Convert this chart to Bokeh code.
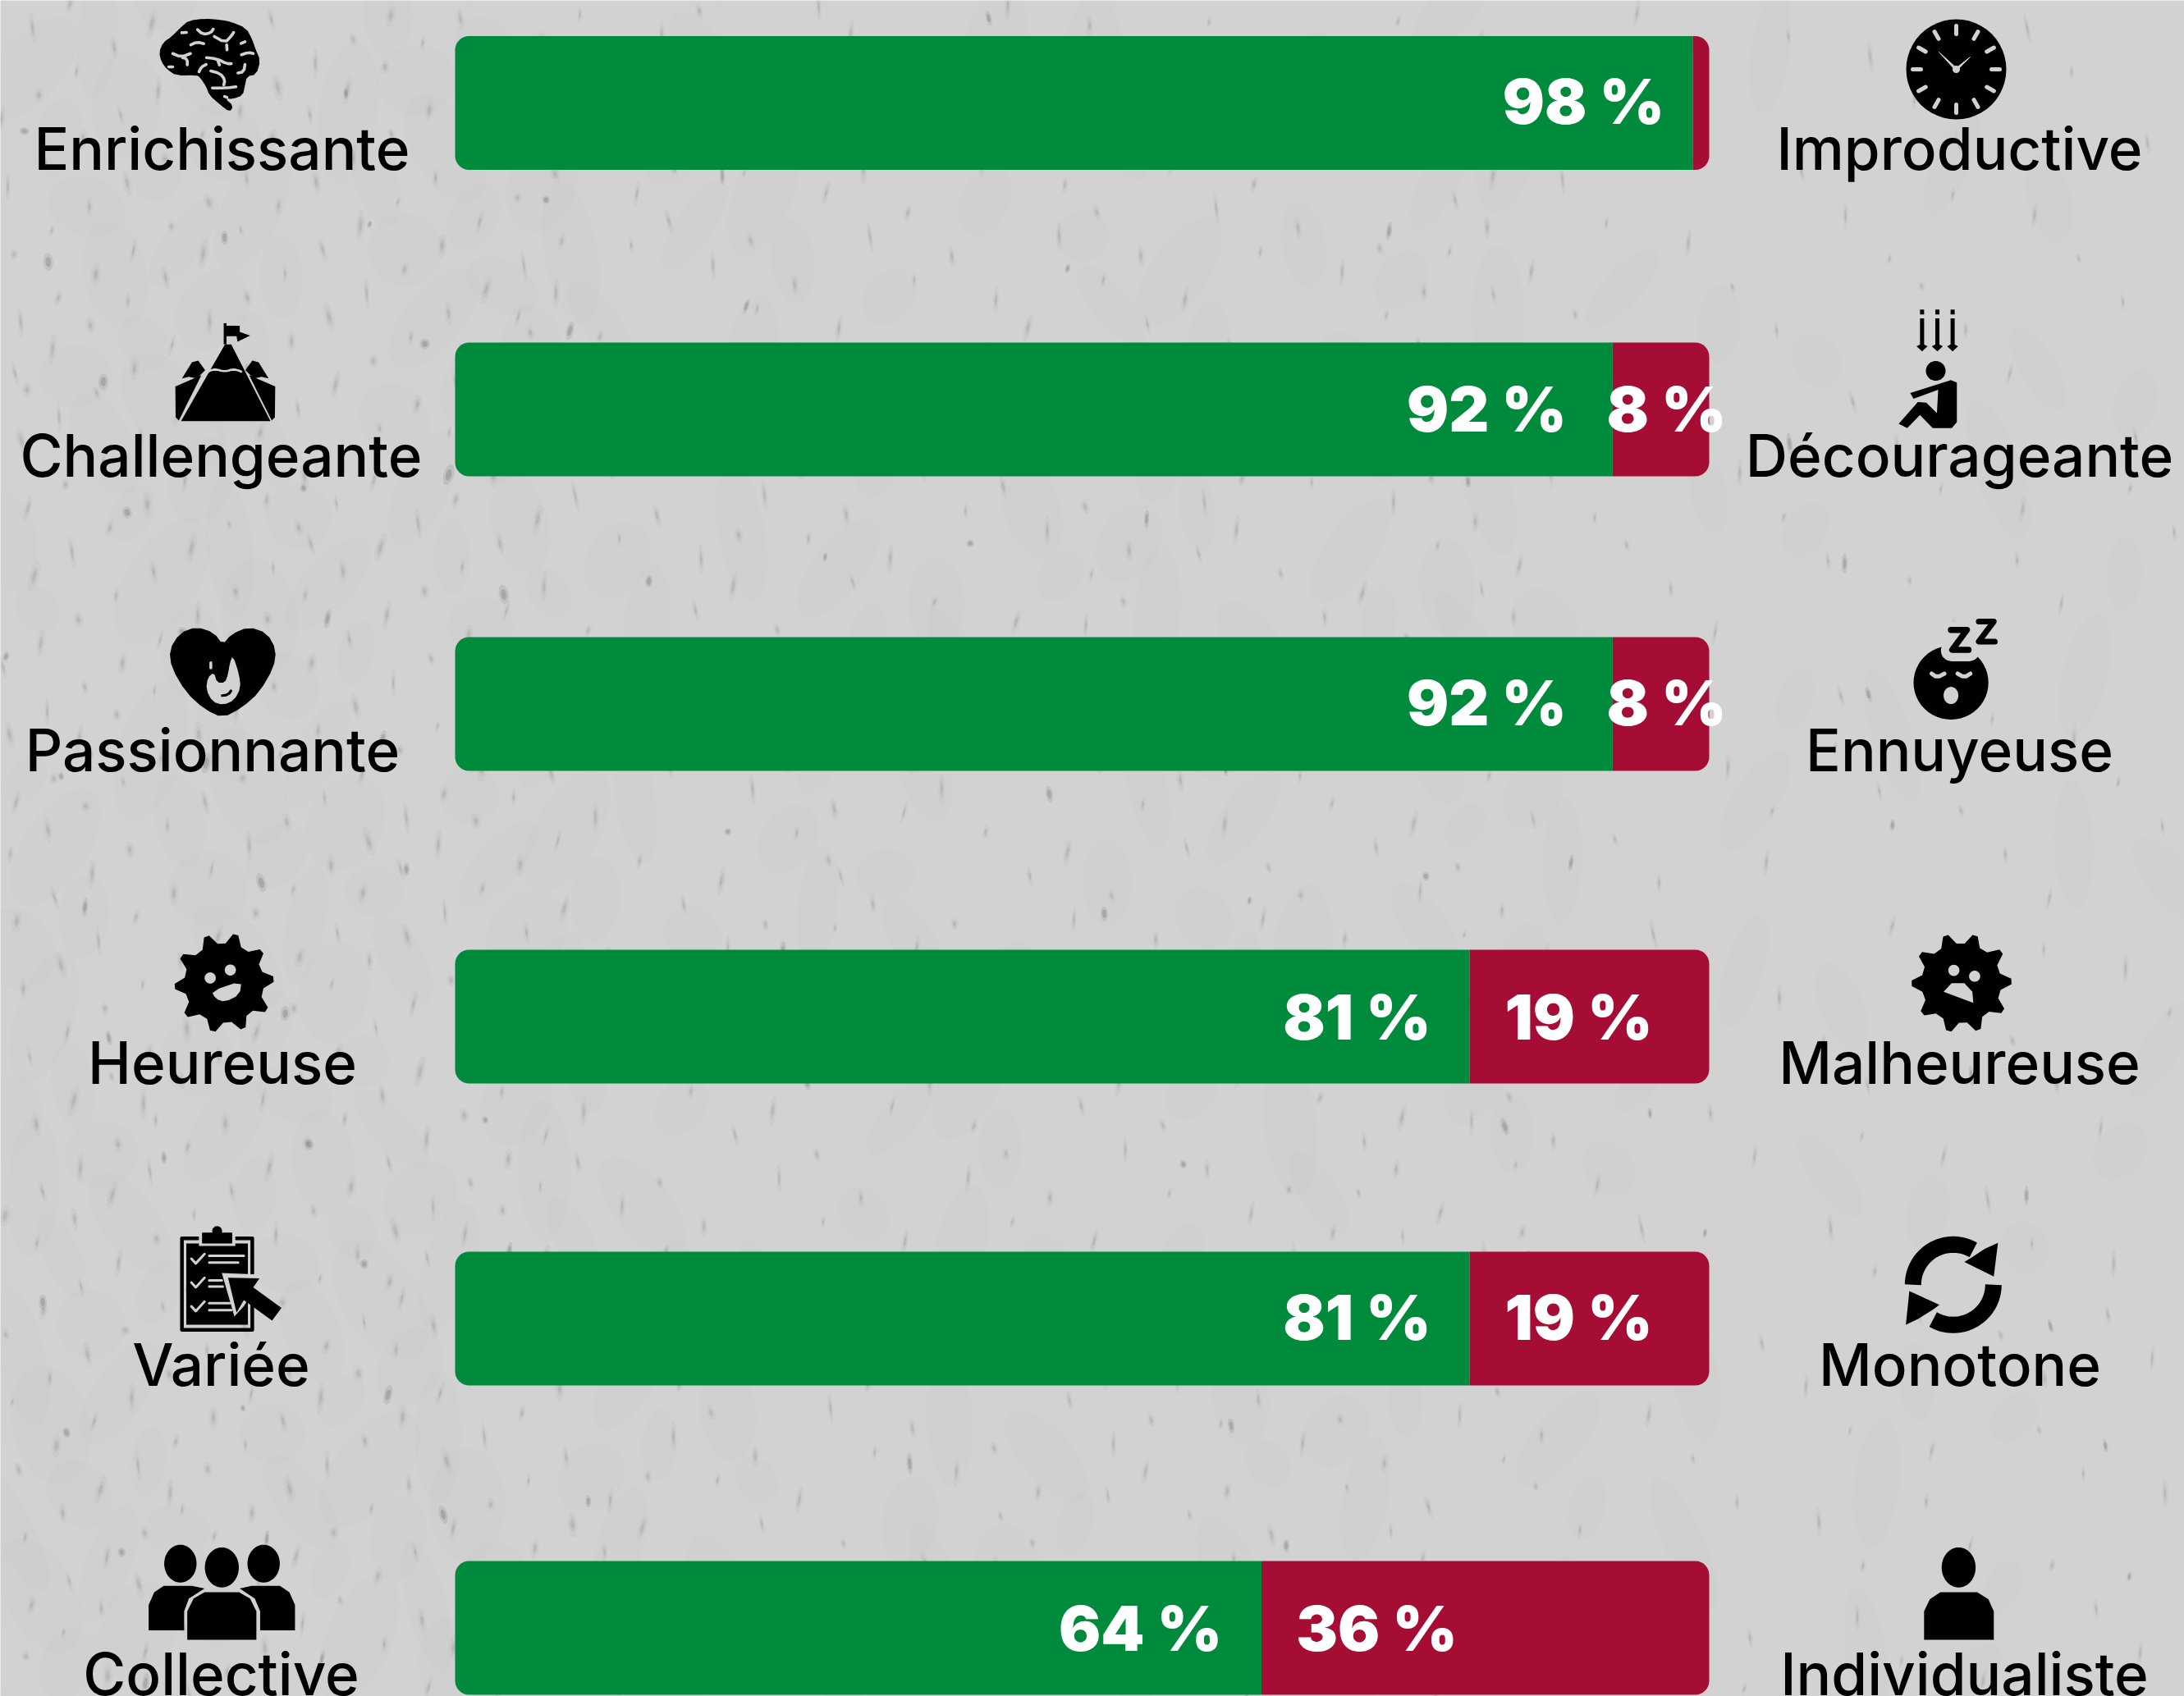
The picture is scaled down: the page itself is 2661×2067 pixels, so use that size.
import math
from bokeh.plotting import figure
from bokeh.models import Range1d
from bokeh.core.properties import value
from bokeh.embed import file_html
from bokeh.resources import INLINE

# ---- data ----
left_labels = ["Enrichissante", "Challengeante", "Passionnante", "Heureuse", "Variée", "Collective"]
right_labels = ["Improductive", "Décourageante", "Ennuyeuse", "Malheureuse", "Monotone", "Individualiste"]
positive_share = [98.7, 92.3, 92.3, 80.9, 80.9, 64.3]
negative_share = [1.3, 7.7, 7.7, 19.1, 19.1, 35.7]
positive_text = ["98 %", "92 %", "92 %", "81 %", "81 %", "64 %"]
negative_text = ["", "8 %", "8 %", "19 %", "19 %", "36 %"]

# ---- layout (pixels of the picture) ----
W, H = 2661, 2067
BAR_L, BAR_R = 554, 2082
bar_center = [125, 498.5, 857.5, 1238.5, 1606.5, 1983.5]
bar_h = 163
LABEL_SIZE, VALUE_SIZE = 71, 76
label_base = [206 - 26, 580 - 26, 939 - 26, 1320 - 26, 1688 - 26, 2065 - 26]
left_x = [270, 269, 258.5, 270.5, 269, 269]
right_x = [2387, 2387, 2387, 2387, 2387.5, 2393]
value_base = [151 - 29, 526 - 29, 884 - 29, 1268 - 30, 1634 - 30, 2013 - 30]
pos_cx = [1929, 1811, 1811, 1653, 1653, 1389]
neg_cx = [0, 2030, 2030, 1923, 1923, 1677]

BG = "#d2d2d2"
GREEN = "#008a3c"
RED = "#a60d34"
K = "#000000"

ppp = (BAR_R - BAR_L) / 100.0
p = figure(width=W, height=H, output_backend="svg", toolbar_location=None,
           x_range=Range1d(-BAR_L / ppp, (W - BAR_L) / ppp), y_range=Range1d(H, 0),
           x_axis_location=None, y_axis_location=None, min_border=0,
           background_fill_color=BG, border_fill_color=BG, outline_line_color=None)
p.extra_x_ranges = {"px": Range1d(0, W)}
p.grid.visible = False
p.styles = {"position": "fixed", "left": "0px", "top": "0px"}


# ---- paper texture (decoration only, golden-ratio sequences) ----
def seq(n, a):
    return [(i * a) % 1.0 for i in range(1, n + 1)]


def density(x):
    if x < 700:
        return 1.0
    if x < 1900:
        return 0.6
    return 0.3


def dabs(n, a1, a2, a3, w, h, alpha, color, tilt=0.6):
    xs, ys, ws, hs, ang = [], [], [], [], []
    for u, v, t in zip(seq(n, a1), seq(n, a2), seq(n, a3)):
        x, y = u * W, v * H
        if t > density(x):
            continue
        xs.append(x)
        ys.append(y)
        ws.append(w * (0.6 + 0.8 * t))
        hs.append(h * (0.5 + ((t * 7.3) % 1.0)))
        ang.append(((t * 13.7) % 1.0 - 0.5) * tilt)
    p.ellipse(x=xs, y=ys, width=ws, height=hs, angle=ang, fill_color=color, fill_alpha=alpha,
              line_color=None, x_range_name="px")


dabs(500, 0.5497004779, 0.7548776662, 0.1547005384, 90, 140, 0.02, "#ffffff", 1.5)
dabs(500, 0.6180339887, 0.3247179572, 0.3722813233, 70, 120, 0.012, "#777777", 1.5)
dabs(1500, 0.4142135624, 0.7320508076, 0.2360679775, 9, 26, 0.045, "#555555")
dabs(1500, 0.4142135624, 0.7320508076, 0.2360679775, 5, 15, 0.07, "#555555")
dabs(1500, 0.4142135624, 0.7320508076, 0.2360679775, 3, 8, 0.08, "#444444")
dabs(170, 0.3027756377, 0.6457513111, 0.8284271247, 9, 18, 0.12, "#555555")
dabs(170, 0.3027756377, 0.6457513111, 0.8284271247, 5, 10, 0.2, "#444444")

# ---- bars ----
p.hbar(y=bar_center, height=bar_h, left=0, right=positive_share, color=GREEN, line_color=None,
       border_radius=(17, 0, 0, 17))
p.hbar(y=bar_center, height=bar_h, left=positive_share,
       right=[a + b for a, b in zip(positive_share, negative_share)], color=RED, line_color=None,
       border_radius=(0, 17, 17, 0))

# ---- labels ----
p.text(x=left_x, y=label_base, text=left_labels, x_range_name="px", text_font=value("Inter Medium"),
       text_font_size=f"{LABEL_SIZE}px", text_align="center", text_baseline="alphabetic", text_color=K)
p.text(x=right_x, y=label_base, text=right_labels, x_range_name="px", text_font=value("Inter Medium"),
       text_font_size=f"{LABEL_SIZE}px", text_align="center", text_baseline="alphabetic", text_color=K)
p.text(x=pos_cx, y=value_base, text=positive_text, x_range_name="px", text_font=value("Inter Black"),
       text_font_size=f"{VALUE_SIZE}px", text_align="center",
       text_baseline="alphabetic", text_color="#ffffff")
p.text(x=neg_cx, y=value_base, text=negative_text, x_range_name="px", text_font=value("Inter Black"),
       text_font_size=f"{VALUE_SIZE}px", text_align="center",
       text_baseline="alphabetic", text_color="#ffffff")


# ---- icon helpers ----
def crop(x0, y0, w, h):
    sx, sy = w / 1568.0, h / 1568.0
    return lambda pts: [(x0 + a * sx, y0 + b * sy) for a, b in pts]


def chaikin(pts, n=2, closed=True):
    for _ in range(n):
        out = []
        m = len(pts)
        for i in range(m if closed else m - 1):
            a, b = pts[i], pts[(i + 1) % m]
            out.append((0.75 * a[0] + 0.25 * b[0], 0.75 * a[1] + 0.25 * b[1]))
            out.append((0.25 * a[0] + 0.75 * b[0], 0.25 * a[1] + 0.75 * b[1]))
        pts = out
    return pts


def shape(m, pts, color=K, smooth=0):
    q = m(pts)
    if smooth:
        q = chaikin(q, smooth)
    p.patch([a for a, _ in q], [b for _, b in q], fill_color=color, line_color=None, x_range_name="px")


def stroke(m, pts, width, color=BG, smooth=0, cap="round"):
    q = m(pts)
    if smooth:
        q = chaikin(q, smooth, closed=False)
    p.line([a for a, _ in q], [b for _, b in q], line_color=color, line_width=width,
           line_cap=cap, line_join="round", x_range_name="px")


def ellipse(cx, cy, rx, ry, color=K):
    n = 48
    xs = [cx + rx * math.cos(2 * math.pi * i / n) for i in range(n)]
    ys = [cy + ry * math.sin(2 * math.pi * i / n) for i in range(n)]
    p.patch(xs, ys, fill_color=color, line_color=None, x_range_name="px")


def spiky(cx, cy, tips, inner):
    pts = []
    n = len(tips)
    ang = [math.atan2(y - cy, x - cx) for x, y in tips]
    for i in range(n):
        a = ang[i]
        b = ang[(i + 1) % n]
        if b < a:
            b += 2 * math.pi
        mid = (a + b) / 2
        tx, ty = tips[i]
        tx, ty = cx + (tx - cx) * 1.07, cy + (ty - cy) * 1.07
        pts += [(tx, ty), (cx + inner * math.cos(mid), cy + inner * math.sin(mid))]
    q = chaikin(pts, 1)
    p.patch([a for a, _ in q], [b for _, b in q], fill_color=K, line_color=None, x_range_name="px")


# brain
m = crop(0, 0, 600, 620)
shape(m, [(600, 62), (650, 56), (700, 60), (735, 66), (782, 85), (802, 120), (812, 150), (828, 185), (815, 228),
          (785, 234), (778, 265), (772, 292), (740, 304), (715, 302), (742, 325), (730, 344), (700, 322), (665, 292),
          (655, 265), (635, 237), (625, 230), (560, 232), (530, 212), (513, 190), (505, 160), (518, 130), (545, 112),
          (575, 82)], smooth=1)
for line in [[(622, 85), (645, 105), (670, 100), (680, 85)], [(670, 105), (715, 130), (735, 110), (745, 95)],
             [(720, 130), (722, 160)], [(600, 140), (625, 128), (655, 135)], [(540, 160), (575, 175), (615, 160)],
             [(575, 175), (595, 180), (595, 205)], [(645, 175), (690, 180), (720, 195), (740, 195)],
             [(690, 180), (700, 205)], [(760, 170), (790, 160), (810, 165)], [(760, 135), (785, 125)],
             [(780, 190), (775, 220), (750, 225)], [(530, 205), (555, 205)], [(630, 225), (640, 205), (660, 195)],
             [(660, 215), (700, 225), (715, 245), (710, 265)], [(660, 270), (720, 270), (760, 265)],
             [(710, 295), (725, 300)], [(570, 100), (600, 98)]]:
    stroke(m, line, 3.6, smooth=1)

# mountain
shape(m, [(715, 1060), (735, 1060), (860, 1297), (575, 1297)], smooth=0)
shape(m, [(557, 1190), (640, 1155), (568, 1295), (558, 1285)])
shape(m, [(578, 1165), (610, 1115), (630, 1110), (652, 1140), (625, 1165), (600, 1160)])
shape(m, [(875, 1190), (792, 1155), (864, 1295), (874, 1285)])
shape(m, [(854, 1165), (822, 1115), (802, 1110), (780, 1140), (807, 1165), (832, 1160)])
stroke(m, [(650, 1150), (680, 1135), (715, 1145), (745, 1135), (780, 1150)], 2.6, smooth=2)
shape(m, [(711, 995), (720, 995), (720, 1060), (711, 1060)])
shape(m, [(720, 1003), (762, 1003), (762, 1022), (795, 1033), (755, 1052), (752, 1035), (720, 1035)])

# clock
cx, cy = 2383, 84
ellipse(cx, cy, 61, 61)
for i in range(12):
    a = i * math.pi / 6
    p.line([cx + 43 * math.cos(a), cx + 53 * math.cos(a)], [cy + 43 * math.sin(a), cy + 53 * math.sin(a)],
           line_color=BG, line_width=5, line_cap="round", x_range_name="px")
p.patch([cx - 2, 2362, cx + 2], [cy, 63, cy], fill_color=BG, line_color=BG, line_width=1, x_range_name="px")
p.patch([cx - 2, 2400, cx + 2], [cy, 69, cy], fill_color=BG, line_color=BG, line_width=1, x_range_name="px")
ellipse(cx, cy, 4.5, 4.5, BG)

# discouraged person
m = crop(1850, 0, 811, 620)
for ax in (950, 986, 1022):
    stroke(m, [(ax, 953), (ax, 968)], 5, color=K, cap="butt")
    stroke(m, [(ax, 980), (ax, 1065)], 5, color=K, cap="butt")
    shape(m, [(ax - 13, 1066), (ax, 1058), (ax + 13, 1066), (ax, 1082)])
ellipse(2358, 451.5, 12, 12)
shape(m, [(922, 1210), (1018, 1170), (1032, 1178), (1032, 1300), (1020, 1318), (975, 1318), (945, 1278), (915, 1318),
          (895, 1305), (940, 1238), (960, 1240), (985, 1272), (988, 1200), (930, 1228)])

# heart with flame
m = crop(0, 720, 600, 660)
shape(m, [(708, 155), (680, 120), (625, 103), (570, 122), (538, 170), (545, 222), (590, 292), (650, 342), (708, 367),
          (770, 337), (825, 292), (870, 222), (878, 170), (850, 122), (790, 103), (735, 125)], smooth=1)
shape(m, [(740, 185), (760, 240), (765, 280), (745, 315), (710, 330), (675, 320), (655, 285), (660, 250), (680, 235),
          (690, 265), (715, 265), (725, 240), (730, 210)], color=BG, smooth=1)
ellipse(702 * .3827, 720 + 238 * .4209, 3, 3.5, K)
stroke(m, [(670, 207), (670, 222)], 3.5)
stroke(m, [(700, 303), (725, 300), (737, 285)], 3.2, color=K, smooth=1)

# happy sun
cx, cy = 272.5, 1197.7
tips = crop(0, 720, 600, 660)([(655, 995), (750, 990), (836, 1040), (875, 1123), (852, 1215), (775, 1270),
                               (675, 1278), (587, 1230), (550, 1145), (572, 1055)])
spiky(cx, cy, tips, 43)
ellipse(668 * .3827, 720 + 1120 * .4209, 6.8, 6.8, BG)
ellipse(732 * .3827, 720 + 1097 * .4209, 6.8, 6.8, BG)
shape(m, [(672, 1158), (768, 1128), (762, 1168), (715, 1190), (685, 1180)], color=BG, smooth=1)

# sleepy face
m = crop(2050, 720, 611, 660)
ellipse(2376.6, 831.5, 45.6, 45)
stroke(m, [(835, 120), (890, 120), (840, 172), (895, 172)], 26, color=BG)
stroke(m, [(838, 112), (888, 112), (842, 170), (893, 170)], 7.5, color=K)
stroke(m, [(925, 88), (972, 88), (925, 146), (975, 146)], 7, color=K)
stroke(m, [(772, 235), (795, 250), (825, 235)], 5, smooth=1)
stroke(m, [(852, 235), (880, 250), (905, 235)], 5, smooth=1)
ellipse(2050 + 838 * .3897, 720 + 302 * .4209, 9, 10.5, BG)

# unhappy sun
cx, cy = 2389, 1197.7
tips = m([(820, 993), (915, 993), (1000, 1040), (1033, 1130), (1005, 1218), (925, 1275), (830, 1278), (745, 1225),
          (710, 1135), (738, 1048)])
spiky(cx, cy, tips, 43)
ellipse(2050 + 847 * .3897, 720 + 1098 * .4209, 6.8, 6.8, BG)
ellipse(2050 + 912 * .3897, 720 + 1115 * .4209, 6.8, 6.8, BG)
shape(m, [(815, 1160), (840, 1135), (880, 1135), (905, 1160), (908, 1192)], color=BG)

# clipboard with cursor
m = crop(0, 1460, 600, 607)
stroke(m, [(578, 126), (802, 126), (802, 414), (578, 414), (578, 126)], 4.5, color=K)
shape(m, [(592, 142), (788, 142), (788, 398), (592, 398)])
shape(m, [(632, 118), (748, 118), (748, 150), (632, 150)], color=BG)
shape(m, [(642, 108), (738, 108), (738, 142), (642, 142)])
ellipse(690 * .3827, 1460 + 103 * .3871, 6, 6)
for dy in (0, 75, 150):
    stroke(m, [(608, 190 + dy), (622, 205 + dy), (650, 175 + dy)], 3)
for a, b, yy in [(665, 775, 181), (665, 757, 202), (665, 705, 258), (665, 708, 278), (665, 730, 330), (665, 735, 352)]:
    stroke(m, [(a, yy), (b, yy)], 3)
cursor = [(725, 250), (825, 252), (805, 280), (895, 345), (865, 385), (775, 320), (752, 360)]
shape(m, [(705, 235), (840, 240), (822, 272), (895, 320), (800, 300), (775, 340), (745, 372)], color=BG)
shape(m, cursor)

# group
for hx, hy, rx, ry in [(573, 1150, 19.7, 23), (705, 1162, 20.7, 24.4), (838, 1150, 19.7, 23)]:
    ellipse(hx * .3827, 1460 + hy * .3871, rx, ry)
shape(m, [(472, 1360), (472, 1280), (490, 1240), (520, 1220), (610, 1220), (650, 1228), (600, 1260), (585, 1300),
          (585, 1360)])
shape(m, [(938, 1360), (938, 1280), (920, 1240), (890, 1220), (800, 1220), (762, 1228), (810, 1260), (827, 1300),
          (827, 1360)])
shape(m, [(595, 1390), (595, 1300), (615, 1260), (650, 1240), (760, 1240), (795, 1260), (815, 1300), (815, 1390)])

# refresh arrows
m = crop(2050, 1460, 611, 607)
cx, cy = 2379.3, 1565.3
R = 49
upper = [(cx + R * math.cos(math.radians(t)), cy + R * math.sin(math.radians(t))) for t in range(180, 305, 5)]
lower = [(cx + R * math.cos(math.radians(t)), cy + R * math.sin(math.radians(t))) for t in range(0, 125, 5)]
for arc in (upper, lower):
    p.line([a for a, _ in arc], [b for _, b in arc], line_color=K, line_width=20, x_range_name="px")
shape(m, [(985, 140), (972, 246), (880, 200), (900, 188), (945, 158)])
shape(m, [(697, 398), (708, 292), (802, 335), (782, 350), (735, 380)])

# single person
ellipse(2050 + 862 * .3897, 1460 + 1162 * .3871, 20.7, 24.4)
shape(m, [(754, 1390), (754, 1300), (772, 1262), (805, 1240), (920, 1240), (955, 1262), (972, 1300), (972, 1390)])

open("out.html", "w").write(file_html(p, INLINE))
